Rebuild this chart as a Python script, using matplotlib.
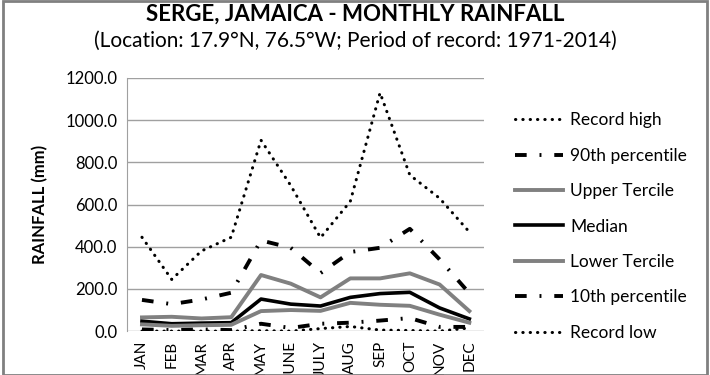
import matplotlib.pyplot as plt
from matplotlib.patches import Rectangle

plt.rcParams['font.family'] = ['Lato', 'DejaVu Sans']

months = ['JAN', 'FEB', 'MAR', 'APR', 'MAY', 'JUNE', 'JULY', 'AUG', 'SEP', 'OCT', 'NOV', 'DEC']
record_high = [445, 245, 380, 445, 905, 690, 443, 615, 1130, 740, 630, 470]
p90 = [148, 128, 150, 182, 430, 395, 275, 375, 395, 485, 340, 180]
upper_tercile = [65, 68, 60, 66, 266, 225, 160, 250, 250, 274, 221, 95]
median = [47, 35, 38, 40, 152, 128, 119, 160, 178, 184, 110, 58]
lower_tercile = [32, 25, 28, 30, 95, 100, 96, 134, 125, 120, 78, 40]
p10 = [8, 5, 8, 5, 35, 15, 35, 40, 50, 62, 20, 20]
record_low = [0, 0, 0, 0, 2, 0, 12, 22, 5, 3, 0, 15]

fig = plt.figure(figsize=(7.1, 3.75), dpi=100)
ax = fig.add_axes([0.179, 0.117, 0.503, 0.675])

x = range(len(months))
dotted = (0, (0.1, 2.3))
dashdot = (0, (3, 3.3, 0.5, 3.3))

ax.plot(x, record_high, color='black', lw=2.2, linestyle=dotted, dash_capstyle='round', label='Record high')
ax.plot(x, p90, color='black', lw=2.8, linestyle=dashdot, label='90th percentile')
ax.plot(x, upper_tercile, color='#808080', lw=2.8, label='Upper Tercile')
ax.plot(x, median, color='black', lw=2.6, label='Median')
ax.plot(x, lower_tercile, color='#808080', lw=2.8, label='Lower Tercile')
ax.plot(x, p10, color='black', lw=2.8, linestyle=dashdot, label='10th percentile')
ax.plot(x, record_low, color='black', lw=2.2, linestyle=dotted, dash_capstyle='round', label='Record low')

ax.set_xlim(-0.5, 11.5)
ax.set_ylim(0, 1200)
ax.set_yticks(range(0, 1201, 200))
ax.set_yticklabels([f'{v:.1f}' for v in range(0, 1201, 200)], fontsize=12)
ax.set_xticks(list(x))
ax.set_xticklabels(months, rotation=90, fontsize=11, va='top')
ax.tick_params(length=0, pad=7)
ax.grid(axis='y', color='#a0a0a0', lw=1)
ax.set_axisbelow(True)
for s in ['top', 'right', 'bottom']:
    ax.spines[s].set_visible(False)
ax.spines['left'].set_color('#a0a0a0')
ax.set_ylabel('RAINFALL (mm)', fontsize=12, fontweight='bold', labelpad=12)

fig.text(0.5, 0.962, 'SERGE, JAMAICA - MONTHLY RAINFALL', ha='center', va='center',
         fontsize=16, fontweight='bold')
fig.text(0.5, 0.891, '(Location: 17.9°N, 76.5°W; Period of record: 1971-2014)', ha='center', va='center',
         fontsize=15)

fig.legend(loc='center left', bbox_to_anchor=(0.703, 0.396), frameon=False, fontsize=12.5,
           handlelength=2.8, handletextpad=0.4, labelspacing=1.12)

fig.patches.append(Rectangle((0.004, 0.0), 0.992, 0.998, transform=fig.transFigure,
                             fill=False, edgecolor='#808080', lw=2))

fig.savefig('out.png', dpi=100)
